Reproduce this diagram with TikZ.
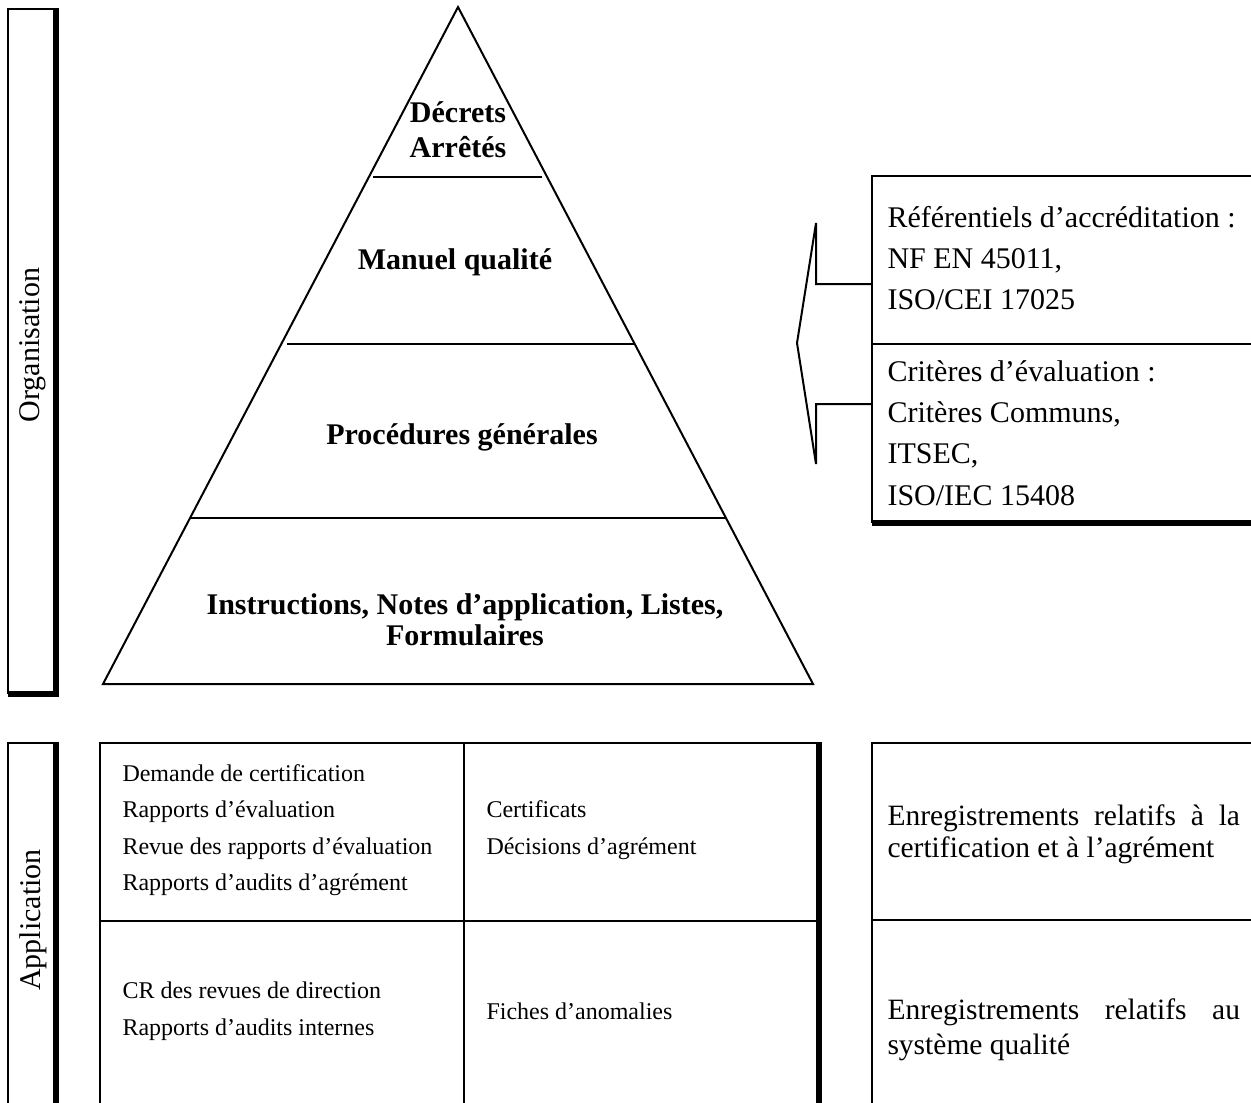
\documentclass[tikz,border=0pt]{standalone}
\usepackage{fontspec}
\setmainfont{Liberation Serif}
\usepackage{tikz}
\usetikzlibrary{positioning}

\begin{document}
\begin{tikzpicture}[
    x=0.4pt, y=-0.4pt,
    thinline/.style={line width=0.8pt},
    shadowline/.style={line width=2.4pt},
    level/.style={font=\fontsize{12}{14}\selectfont\bfseries, align=center, inner sep=0pt},
    ref/.style={font=\fontsize{12}{16.5}\selectfont, align=left, anchor=west, inner sep=0pt},
    cell/.style={font=\fontsize{9.6}{14.6}\selectfont, align=left, anchor=west, inner sep=0pt},
    record/.style={font=\fontsize{11.8}{13.5}\selectfont, align=left, anchor=west, inner sep=0pt},
    side/.style={rotate=90, font=\fontsize{12}{14}\selectfont, inner sep=0pt}
]
\useasboundingbox (0,0) rectangle (1251,1102);

% Organisation / Application side boxes
\draw[thinline] (56,9) -- (8,9) -- (8,694);
\draw[shadowline] (8,694) -- (56,694) -- (56,8);
\node[side] (organisation) at (33,345) {Organisation};

\draw[thinline] (56,743) -- (8,743) -- (8,1110);
\draw[shadowline] (56,742) -- (56,1110);
\node[side] (application) at (33,920) {Application};

% Pyramid
\coordinate (apex) at (458,7);
\coordinate (base-left) at (103,684);
\coordinate (base-right) at (813,684);
\draw[thinline] (base-left) -- (apex) -- (base-right) -- cycle;
\draw[thinline] (373,177) -- (542,177);
\draw[thinline] (287,344) -- (635,344);
\draw[thinline] (190,518) -- (726,518);

\node[level] (decrets) at (458,130) {Décrets\\Arrêtés};
\node[level] (manuel) at (455,262) {Manuel qualité};
\node[level] (procedures) at (462,437) {Procédures générales};
\node[level, font=\fontsize{12}{12.5}\selectfont\bfseries] (instructions) at (465,620) {Instructions, Notes d’application, Listes,\\Formulaires};

% References box with arrow
\draw[thinline] (1260,176) -- (872,176) -- (872,523);
\draw[shadowline] (872,523) -- (1260,523);
\draw[thinline] (872,344) -- (1260,344);
\draw[thinline] (872,284) -- (816,284) -- (816,223) -- (797,343) -- (816,464) -- (816,404) -- (872,404);

\node[ref] (referentiels) at (887,258) {Référentiels d’accréditation :\\NF EN 45011,\\ISO/CEI 17025};
\node[ref] (criteres) at (887,433) {Critères d’évaluation :\\Critères Communs,\\ITSEC,\\ISO/IEC 15408};

% Records table
\draw[thinline] (818,743) -- (100,743) -- (100,1110);
\draw[shadowline] (819,742) -- (819,1110);
\draw[thinline] (464,743) -- (464,1110);
\draw[thinline] (100,921) -- (819,921);

\node[cell] (demande) at (122,830) {Demande de certification\\Rapports d’évaluation\\Revue des rapports d’évaluation\\Rapports d’audits d’agrément};
\node[cell] (certificats) at (486,830) {Certificats\\Décisions d’agrément};
\node[cell] (revues) at (122,1011) {CR des revues de direction\\Rapports d’audits internes};
\node[cell] (fiches) at (486,1011) {Fiches d’anomalies};

% Records summary box
\draw[thinline] (1260,743) -- (872,743) -- (872,1110);
\draw[thinline] (872,920) -- (1260,920);

\node[record, font=\fontsize{11.8}{12.8}\selectfont] (enreg-certif) at (887,834) {\makebox[141pt][l]{Enregistrements\hfill relatifs\hfill à\hfill la}\\certification et à l’agrément};
\node[record, font=\fontsize{11.8}{14}\selectfont] (enreg-qualite) at (887,1030) {\makebox[141pt][l]{Enregistrements\hfill relatifs\hfill au}\\système qualité};

\end{tikzpicture}
\end{document}
